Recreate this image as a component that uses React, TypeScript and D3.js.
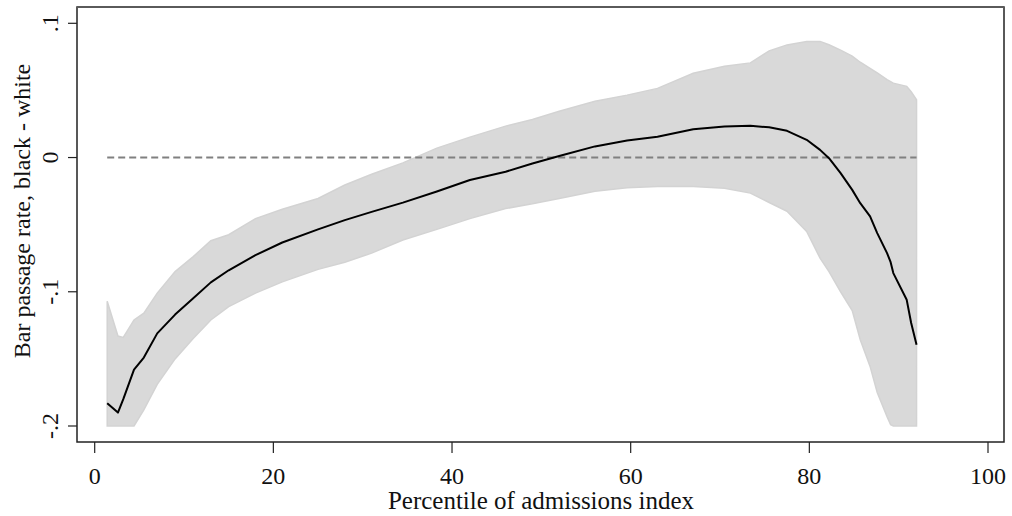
import React from "react";
import * as d3 from "d3";

// percentile of admissions index
const pct = [1.4, 2.6, 3.2, 4.4, 5.5, 7, 9, 11, 13, 15, 18, 21, 25, 28, 31, 34.5, 38.3, 42, 46, 49, 52, 56, 59.6, 63, 67, 70.5, 73.4, 75.5, 77.5, 79.7, 81.2, 82.2, 83.5, 84.8, 85.7, 86.8, 87.6, 88.7, 89.1, 89.4, 90.9, 91.4, 92];
// black - white bar passage gap
const est = [-0.183, -0.19, -0.18, -0.158, -0.149, -0.131, -0.117, -0.105, -0.093, -0.084, -0.0727, -0.0633, -0.0535, -0.0466, -0.0405, -0.0336, -0.0253, -0.0167, -0.0106, -0.0044, 0.0012, 0.0083, 0.0127, 0.0155, 0.0211, 0.0231, 0.0236, 0.0225, 0.0199, 0.0132, 0.0057, -0.0005, -0.0116, -0.0241, -0.034, -0.0439, -0.0563, -0.0712, -0.078, -0.0861, -0.106, -0.1233, -0.1395];
const upper = [-0.107, -0.133, -0.134, -0.121, -0.116, -0.101, -0.085, -0.074, -0.062, -0.0575, -0.0455, -0.0385, -0.0305, -0.0205, -0.0125, -0.004, 0.007, 0.0152, 0.0234, 0.0283, 0.0345, 0.042, 0.0465, 0.0515, 0.0628, 0.068, 0.0705, 0.0795, 0.0839, 0.0865, 0.0865, 0.084, 0.08, 0.0755, 0.071, 0.0665, 0.063, 0.058, 0.0565, 0.0554, 0.053, 0.049, 0.043];
const lower = [-0.2, -0.2, -0.2, -0.2, -0.188, -0.169, -0.15, -0.135, -0.121, -0.111, -0.101, -0.0926, -0.0833, -0.078, -0.0712, -0.0614, -0.0535, -0.0455, -0.038, -0.0345, -0.0305, -0.0252, -0.0225, -0.0215, -0.0216, -0.0228, -0.0265, -0.0335, -0.04, -0.055, -0.075, -0.085, -0.1, -0.114, -0.1357, -0.1556, -0.175, -0.193, -0.199, -0.2, -0.2, -0.2, -0.2];

const xTicks = [0, 20, 40, 60, 80, 100];
const yTicks = [0.1, 0, -0.1, -0.2];
const yTickLabels = [".1", "0", "-.1", "-.2"];

const font = "'Liberation Serif', 'Times New Roman', serif";

export default function App() {
  const width = 1012;
  const height = 516;
  const plot = { left: 77, right: 1004, top: 7, bottom: 442 };

  const x = d3.scaleLinear().domain([0, 100]).range([94.7, 988]);
  const y = d3.scaleLinear().domain([-0.2, 0.1]).range([426, 23.3]);

  const rows = pct.map((p, i) => ({ p, est: est[i], hi: upper[i], lo: lower[i] }));

  const area = d3
    .area<any>()
    .x((d) => x(d.p))
    .y0((d) => y(d.lo))
    .y1((d) => y(d.hi));

  const line = d3
    .line<any>()
    .x((d) => x(d.p))
    .y((d) => y(d.est));

  const xMin = d3.min(pct) as number;
  const xMax = d3.max(pct) as number;

  return (
    <svg
      width={width}
      height={height}
      style={{ position: "absolute", left: 0, top: 0, background: "#fff" }}
      fontFamily={font}
    >
      {/* title sits mostly above the page, as in the original */}
      <text x={572} y={-6} textAnchor="middle" fontSize={26} fill="#000">
        Bar passage by admissions percentile
      </text>

      <path d={area(rows) || ""} fill="#d9d9d9" stroke="#d3d3d3" strokeWidth={1.5} />
      <line
        x1={x(xMin)}
        x2={x(xMax)}
        y1={y(0)}
        y2={y(0)}
        stroke="#808080"
        strokeWidth={2}
        strokeDasharray="7,4"
      />
      <path d={line(rows) || ""} fill="none" stroke="#000" strokeWidth={2} strokeLinejoin="round" />

      {/* frame */}
      <rect
        x={plot.left}
        y={plot.top}
        width={plot.right - plot.left}
        height={plot.bottom - plot.top}
        fill="none"
        stroke="#222"
        strokeWidth={1.5}
      />
      <line x1={plot.left} x2={plot.right} y1={plot.top} y2={plot.top} stroke="#5a5a5a" strokeWidth={2} />

      {/* y axis */}
      {yTicks.map((t, i) => (
        <g key={t}>
          <line x1={plot.left - 9} x2={plot.left} y1={y(t)} y2={y(t)} stroke="#222" strokeWidth={1.2} />
          <text
            transform={`translate(${58},${y(t)}) rotate(-90)`}
            textAnchor="middle"
            fontSize={24}
            fill="#111"
          >
            {yTickLabels[i]}
          </text>
        </g>
      ))}
      <text
        transform={`translate(${30},${211}) rotate(-90)`}
        textAnchor="middle"
        fontSize={24}
        fill="#111"
      >
        Bar passage rate, black - white
      </text>

      {/* x axis */}
      {xTicks.map((t) => (
        <g key={t}>
          <line x1={x(t)} x2={x(t)} y1={plot.bottom} y2={plot.bottom + 11} stroke="#222" strokeWidth={1.2} />
          <text x={x(t)} y={484} textAnchor="middle" fontSize={24} fill="#111">
            {t}
          </text>
        </g>
      ))}
      <text x={541} y={509} textAnchor="middle" fontSize={25} fill="#111">
        Percentile of admissions index
      </text>
    </svg>
  );
}
